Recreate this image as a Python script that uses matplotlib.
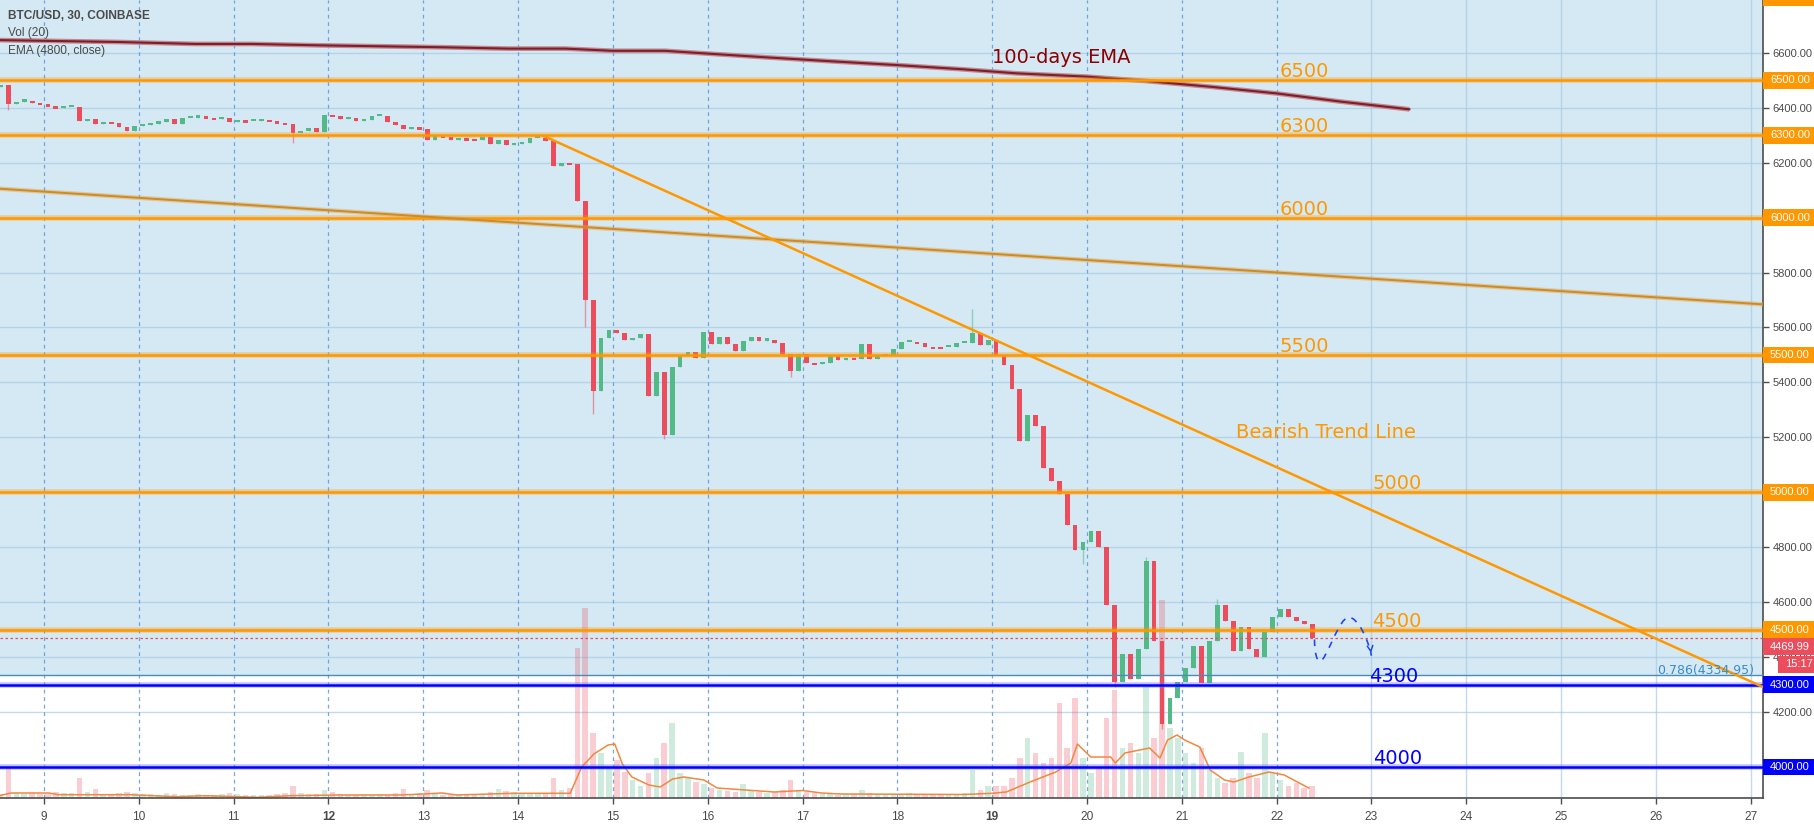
import numpy as np
import matplotlib
matplotlib.use("Agg")
import matplotlib.pyplot as plt
import matplotlib.transforms as mtransforms
from matplotlib.path import Path
from matplotlib.patches import PathPatch, Rectangle

# price data, 2 hour candles (close of each candle), day of month
start_day = 8.5
step = 1 / 12
first_open = 6476
close_8 = [6484, 6412, 6422, 6425, 6418, 6412]
close_9 = [6405, 6398, 6403, 6404, 6352, 6358, 6340, 6348, 6346, 6330, 6314, 6332]
close_10 = [6338, 6342, 6348, 6357, 6342, 6362, 6364, 6368, 6362, 6358, 6361, 6347]
close_11 = [6354, 6350, 6351, 6355, 6350, 6346, 6339, 6308, 6316, 6326, 6313, 6375]
close_12 = [6370, 6357, 6362, 6350, 6356, 6368, 6370, 6347, 6336, 6322, 6328, 6322]
close_13 = [6282, 6296, 6295, 6283, 6288, 6287, 6281, 6294, 6268, 6284, 6265, 6268]
close_14 = [6272, 6288, 6290, 6280, 6188, 6200, 6195, 6060, 5700, 5370, 5560, 5590]
close_15 = [5580, 5555, 5560, 5576, 5352, 5437, 5210, 5455, 5500, 5510, 5490, 5582]
close_16 = [5540, 5564, 5540, 5516, 5550, 5564, 5552, 5555, 5545, 5504, 5440, 5505]
close_17 = [5470, 5466, 5470, 5497, 5480, 5490, 5485, 5540, 5485, 5495, 5500, 5520]
close_18 = [5546, 5548, 5545, 5530, 5528, 5527, 5530, 5542, 5545, 5580, 5535, 5555]
close_19 = [5500, 5462, 5376, 5185, 5280, 5243, 5090, 5040, 4995, 4880, 4790, 4820]
close_20 = [4860, 4800, 4590, 4310, 4410, 4320, 4430, 4750, 4460, 4156, 4250, 4310]
close_21 = [4360, 4440, 4305, 4460, 4590, 4530, 4423, 4508, 4430, 4400, 4490, 4545]
close_22 = [4575, 4545, 4530, 4520, 4469.99]

# long wicks (day the candle closes, extreme price)
spike_day = [8.667, 11.667, 14.75, 14.833, 15.583, 16.917, 18.833, 20.0, 20.333, 20.667, 20.833, 21.417]
spike_price = [6390, 6272, 5600, 5285, 5195, 5420, 5667, 4740, 4290, 4765, 4140, 4610]

# volume per candle
vol_8 = [4, 30, 5, 4, 5, 4]
vol_9 = [4, 6, 5, 5, 20, 6, 9, 4, 4, 5, 6, 5]
vol_10 = [4, 4, 3, 5, 4, 3, 3, 4, 3, 3, 4, 5]
vol_11 = [4, 3, 3, 3, 3, 4, 5, 12, 5, 4, 4, 8]
vol_12 = [6, 4, 3, 3, 4, 3, 4, 3, 5, 9, 4, 5]
vol_13 = [8, 4, 3, 3, 4, 3, 3, 4, 6, 9, 7, 6]
vol_14 = [5, 4, 4, 5, 20, 8, 10, 150, 190, 65, 45, 30]
vol_15 = [38, 26, 18, 12, 25, 40, 55, 75, 25, 20, 16, 14]
vol_16 = [10, 8, 7, 6, 14, 7, 6, 5, 6, 8, 18, 8]
vol_17 = [6, 5, 4, 4, 3, 4, 4, 8, 5, 4, 3, 4]
vol_18 = [4, 5, 3, 3, 4, 3, 3, 4, 5, 28, 8, 12]
vol_19 = [12, 12, 20, 40, 60, 45, 35, 40, 95, 50, 100, 40]
vol_20 = [25, 30, 80, 108, 50, 55, 45, 111, 60, 198, 70, 60]
vol_21 = [45, 35, 50, 28, 20, 15, 20, 46, 25, 20, 65, 25]
vol_22 = [18, 12, 15, 10, 12]

# Vol (20) moving average as drawn
volma_day = [8.53, 8.65, 9.05, 9.15, 9.9, 10.4, 10.7, 11.25, 11.6, 12.1, 12.75, 13.0, 13.2, 13.35,
             13.95, 14.55, 14.67, 14.8, 14.95, 15.02, 15.1, 15.2, 15.38, 15.5, 15.63, 15.75, 15.96,
             16.1, 16.4, 16.7, 17.0, 17.2, 17.4, 18.7, 19.0, 19.15, 19.4, 19.67, 19.83, 19.9, 20.04,
             20.25, 20.3, 20.4, 20.66, 20.77, 20.85, 20.95, 21.03, 21.19, 21.3, 21.45, 21.55, 21.71,
             21.92, 22.08, 22.18, 22.34]
volma_val = [2.3, 5, 5, 3.3, 3.3, 1.3, 2.3, 0.7, 2.3, 3, 3, 4, 5, 3,
             4.7, 4.7, 31, 44, 53, 54, 34, 21, 13, 11, 19, 21, 18,
             10, 8, 6, 7.5, 5, 4, 3.5, 4.7, 6, 16, 26, 35, 54, 41,
             41, 35, 45, 50, 40, 58, 63, 58, 51, 28, 18, 16, 21,
             26, 23, 18, 10]

# EMA (4800, close)
ema_day = [8.53, 9.8, 10.6, 11.2, 11.9, 13.2, 13.9, 14.5, 15.0, 15.55, 15.95, 16.63, 17.3, 18.0,
           18.68, 19.26, 20.0, 20.63, 21.31, 22.0, 22.68, 23.4]
ema_val = [6646, 6639, 6632, 6632, 6627, 6620, 6615, 6615, 6607, 6607, 6598, 6583, 6569, 6555,
           6540, 6525, 6513, 6497, 6476, 6452, 6422, 6394]

# drawings
orange_levels = [6500, 6300, 6000, 5500, 5000, 4500]
orange_label_day = [22.03, 22.03, 22.03, 22.03, 23.01, 23.01]
blue_levels = [4300, 4000]
blue_label_day = [22.98, 23.02]
fib_level = 4334.95
last_price = 4469.99
bear_day = [14.27, 27.13]
bear_price = [6297, 4291]
long_day = [8.536, 27.13]
long_price = [6105, 5684]
proj_day = [22.40, 22.40, 22.42, 22.46, 22.52, 22.66, 22.76, 22.86, 22.97, 23.0]
proj_price = [4464, 4420, 4385, 4385, 4385, 4545, 4545, 4545, 4460, 4405]

price_ticks = [4200, 4400, 4600, 4800, 5200, 5400, 5600, 5800, 6200, 6400, 6600]
grid_prices = list(range(4000, 6601, 200))
days = list(range(9, 28))
session_days = list(range(9, 23))

xmin, xmax = 8.536, 27.13
ybot, ytop = 3887, 6792

ORANGE = "#ff9800"
BLUE = "#0000ff"
UPC = "#53b987"
DNC = "#eb4d5c"

closes = np.array(close_8 + close_9 + close_10 + close_11 + close_12 + close_13 + close_14 +
                  close_15 + close_16 + close_17 + close_18 + close_19 + close_20 + close_21 + close_22)
volume = np.array(vol_8 + vol_9 + vol_10 + vol_11 + vol_12 + vol_13 + vol_14 + vol_15 + vol_16 +
                  vol_17 + vol_18 + vol_19 + vol_20 + vol_21 + vol_22)
n = len(closes)
opens = np.r_[first_open, closes[:-1]]
tc = start_day + step * (np.arange(n) + 0.5)
up = closes >= opens
highs = np.maximum(opens, closes)
lows = np.minimum(opens, closes)
for d, p in zip(spike_day, spike_price):
    i = int(round((d - start_day) / step)) - 1
    highs[i] = max(highs[i], p)
    lows[i] = min(lows[i], p)
cols = np.where(up, UPC, DNC)

plt.rcParams['font.family'] = ['DejaVu Sans']

fig = plt.figure(figsize=(18.14, 8.24), dpi=100)
fig.patch.set_facecolor("white")
rect = [0, 26 / 824, 1763 / 1814, 798 / 824]
ax_bg = fig.add_axes(rect, zorder=0)
ax_vol = fig.add_axes(rect, zorder=1, sharex=ax_bg)
ax = fig.add_axes(rect, zorder=2, sharex=ax_bg)

# background, grid
ax_bg.set_facecolor("#e4e4e4")
ax_bg.axhspan(fib_level, ytop, color="#d4e9f4", lw=0)
for p in grid_prices:
    ax_bg.axhline(p, color="#a9cbe3", alpha=0.7, lw=1)
for d in days:
    if d in session_days:
        ax_bg.axvline(d, color="#5f95dd", lw=0.9, ls=(0, (3, 3)), alpha=0.85)
    else:
        ax_bg.axvline(d, color="#a9cbe3", lw=1, alpha=0.7)
ax_bg.set_xlim(xmin, xmax)
ax_bg.set_ylim(ybot, ytop)
ax_bg.axis("off")

# volume
ax_vol.patch.set_visible(False)
ax_vol.bar(tc, volume, width=step * 0.7, color=cols, alpha=0.28, lw=0)
ax_vol.plot(volma_day, volma_val, color="#f0883e", lw=1.1)
ax_vol.set_ylim(0, max(volume) * 4.03)
ax_vol.axis("off")

# price candles
ax.patch.set_visible(False)
body = closes - opens
body = np.where(np.abs(body) < 8, np.where(body < 0, -8, 8), body)
ax.vlines(tc, lows, highs, colors=cols, lw=1, alpha=0.55, zorder=3)
ax.bar(tc, body, bottom=opens, width=step * 0.6, color=cols, lw=0, zorder=3)

ax.plot(ema_day, ema_val, color="#c08a90", lw=3.4, zorder=4, solid_capstyle="butt")
ax.plot(ema_day, ema_val, color="#7f1d2a", lw=1.5, zorder=4)

ax.axhline(fib_level, color="#4a8cb8", lw=1, zorder=4)
ax.axhline(last_price, color=DNC, lw=0.9, ls=(0, (2, 2)), zorder=4)

for lv, ld in zip(orange_levels, orange_label_day):
    ax.axhline(lv, color=ORANGE, lw=4, alpha=0.35, zorder=5)
    ax.axhline(lv, color=ORANGE, lw=1.8, zorder=5)
    ax.text(ld, lv + 11, str(lv), color=ORANGE, fontsize=14, va="baseline", ha="left", zorder=6)
for lv, ld in zip(blue_levels, blue_label_day):
    ax.axhline(lv, color="#6b6bff", lw=4, alpha=0.4, zorder=5)
    ax.axhline(lv, color=BLUE, lw=1.8, zorder=5)
    ax.text(ld, lv + 11, str(lv), color=BLUE, fontsize=14, va="baseline", ha="left", zorder=6)

ax.plot(long_day, long_price, color="#e0a040", lw=3.2, alpha=0.45, zorder=5)
ax.plot(long_day, long_price, color="#d08a20", lw=1.4, zorder=5)
ax.plot(bear_day, bear_price, color=ORANGE, lw=1.8, zorder=5)

ax.text(19.0, 6581, "100-days EMA", color="#8b0000", fontsize=14, va="center", ha="left", zorder=6)
ax.text(21.57, 5217, "Bearish Trend Line", color=ORANGE, fontsize=14, va="center", ha="left", zorder=6)
ax.text(27.04, fib_level + 4, "0.786(4334.95)", color="#3a8cc4", fontsize=9, va="baseline",
        ha="right", zorder=6)

# projected path drawn after the last candle
codes = [Path.MOVETO] + [Path.CURVE4] * 9
proj = Path(list(zip(proj_day, proj_price)), codes)
ax.add_patch(PathPatch(proj, fill=False, ec="#2447f0", lw=1.2, ls=(0, (4, 4)), zorder=6))
ax.annotate("", xy=(proj_day[-1], proj_price[-1]), xytext=(proj_day[-1] - 0.012, proj_price[-1] + 30),
            arrowprops=dict(arrowstyle="->", color="#2447f0", lw=1.1), zorder=6)

# legend at top left
lfont = dict(family="Liberation Sans", color="#4a4a4a", fontsize=8.6, transform=ax.transAxes,
             va="center", ha="left", zorder=7)
ax.text(0.0045, 1 - 16 / 798, "BTC/USD, 30, COINBASE", fontweight="bold", **lfont)
ax.text(0.0045, 1 - 33 / 798, "Vol (20)", **lfont)
ax.text(0.0045, 1 - 51 / 798, "EMA (4800, close)", **lfont)

ax.set_xlim(xmin, xmax)
ax.set_ylim(ybot, ytop)

# axes
for s in ["left", "top"]:
    ax.spines[s].set_visible(False)
for s in ["right", "bottom"]:
    ax.spines[s].set_color("#4d4d4d")
    ax.spines[s].set_linewidth(1.2)
ax.yaxis.tick_right()
ax.set_yticks(price_ticks)
ax.set_yticklabels([f"{p:.2f}" for p in price_ticks], family="Liberation Sans", fontsize=8)
ax.set_xticks(days)
ax.set_xticklabels([str(d) for d in days], family="Liberation Sans", fontsize=8.6)
for lbl in ax.get_xticklabels():
    if lbl.get_text() in ("12", "19"):
        lbl.set_fontweight("bold")
ax.tick_params(axis="both", colors="#4d4d4d", labelcolor="#4a4a4a", length=4, width=1)
ax.tick_params(axis="y", pad=3)
ax.tick_params(axis="x", pad=5)

# price labels on the axis
ax_h_px = rect[3] * 824
ax_w_px = rect[2] * 1814
half = 8.4 * (ytop - ybot) / ax_h_px
btrans = mtransforms.blended_transform_factory(ax.transAxes, ax.transData)


def axis_box(price, label, color, shift=0.0, x0=0):
    y = price + shift
    ax.add_patch(Rectangle((1.0 + x0 / ax_w_px, y - half), (51 - x0) / ax_w_px, 2 * half,
                           transform=btrans, color=color, clip_on=False, zorder=8, lw=0))
    if label:
        ax.text(1.0 + (x0 + 7) / ax_w_px, y, label, transform=btrans, color="white",
                family="Liberation Sans", fontsize=8, va="center", ha="left", clip_on=False, zorder=9)


for lv in orange_levels:
    axis_box(lv, f"{lv:.2f}", ORANGE)
for lv in blue_levels:
    axis_box(lv, f"{lv:.2f}", BLUE)
axis_box(6800, "", ORANGE)
axis_box(last_price, f"{last_price:.2f}", DNC, shift=-32)
axis_box(last_price, "15:17", DNC, shift=-96, x0=15)

fig.savefig("out.png", dpi=100)
